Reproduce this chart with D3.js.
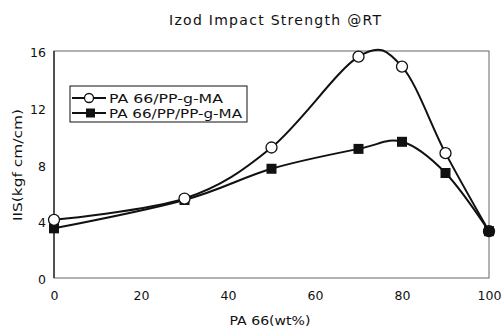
<!DOCTYPE html>
<html>
<head>
<meta charset="UTF-8" />
<title>Izod Impact Strength</title>
<script src="https://d3js.org/d3.v7.min.js"></script>
<style>
  body { margin: 0; background: #fff; }
  text { font-family: "DejaVu Sans", "Liberation Sans", sans-serif; fill: #111; }
  .line { fill: none; stroke: #111; stroke-width: 2; }
</style>
</head>
<body>
<script>
var width = 503, height = 328;

var pa66 = [0, 30, 50, 70, 80, 90, 100];
var ppgma = [4.1, 5.6, 9.2, 15.6, 14.9, 8.8, 3.3];
var ppppgma = [3.5, 5.5, 7.7, 9.1, 9.6, 7.4, 3.3];
var seriesNames = ["PA 66/PP-g-MA", "PA 66/PP/PP-g-MA"];
var xTicks = [0, 20, 40, 60, 80, 100];
var yTicks = [0, 4, 8, 12, 16];

var svg = d3.select("body").append("svg").attr("width", width).attr("height", height);

var mLeft = 54, mRight = 489, mTop = 51, mBottom = 278;
var x = d3.scaleLinear().domain([0, 100]).range([mLeft, mRight]);
var y = d3.scaleLinear().domain([0, 16]).range([mBottom, mTop]);

// frame
svg.append("rect").attr("x", mLeft).attr("y", mTop)
  .attr("width", mRight - mLeft).attr("height", mBottom - mTop)
  .attr("fill", "none").attr("stroke", "#666").attr("stroke-width", 1);
svg.append("line").attr("x1", mLeft).attr("x2", mLeft).attr("y1", mTop).attr("y2", mBottom)
  .attr("stroke", "#111").attr("stroke-width", 1.2);

// axes
var xAxis = svg.append("g").attr("transform", "translate(0," + mBottom + ")")
  .call(d3.axisBottom(x).tickValues(xTicks).tickSize(0).tickPadding(13));
var yAxis = svg.append("g").attr("transform", "translate(" + mLeft + ",0)")
  .call(d3.axisLeft(y).tickValues(yTicks).tickSize(0).tickPadding(8));
[xAxis, yAxis].forEach(function(a) {
  a.select(".domain").remove();
  a.selectAll("text").style("font-size", "12.5px").attr("fill", "#111")
    .style("font-family", "DejaVu Sans, Liberation Sans, sans-serif");
});
yAxis.selectAll("text").attr("dy", "0.45em");

// titles
svg.append("text").attr("x", 275).attr("y", 25).attr("text-anchor", "middle")
  .attr("textLength", 212).attr("lengthAdjust", "spacing")
  .style("font-size", "14px").text("Izod Impact Strength @RT");
svg.append("text").attr("x", 270).attr("y", 325).attr("text-anchor", "middle")
  .attr("textLength", 81).attr("lengthAdjust", "spacingAndGlyphs")
  .style("font-size", "12.5px").text("PA 66(wt%)");
svg.append("text").attr("transform", "translate(22,165) rotate(-90)").attr("text-anchor", "middle")
  .attr("textLength", 112).attr("lengthAdjust", "spacingAndGlyphs")
  .style("font-size", "12.5px").text("IIS(kgf cm/cm)");

var line = d3.line().x(function(d, i) { return x(pa66[i]); }).y(function(d) { return y(d); })
  .curve(d3.curveCardinal.tension(0));

svg.append("path").datum(ppppgma).attr("class", "line").attr("d", line);
svg.append("path").datum(ppgma).attr("class", "line").attr("d", line);

svg.selectAll(".sq").data(ppppgma).enter().append("rect").attr("class", "sq")
  .attr("x", function(d, i) { return x(pa66[i]) - 5; })
  .attr("y", function(d) { return y(d) - 5; })
  .attr("width", 10).attr("height", 10).attr("fill", "#111");

svg.selectAll(".ci").data(ppgma).enter().append("circle").attr("class", "ci")
  .attr("cx", function(d, i) { return x(pa66[i]); })
  .attr("cy", function(d) { return y(d); })
  .attr("r", 5.5).attr("fill", function(d, i) { return i === pa66.length - 1 ? "#111" : "#fff"; })
  .attr("stroke", "#111").attr("stroke-width", 1.3);

// legend
var lg = svg.append("g");
lg.append("rect").attr("x", 70).attr("y", 86).attr("width", 177).attr("height", 36)
  .attr("fill", "#fff").attr("stroke", "#111").attr("stroke-width", 1);
var legendWidths = [114, 133];
seriesNames.forEach(function(name, i) {
  var ly = 98 + i * 15;
  lg.append("line").attr("x1", 72).attr("x2", 106).attr("y1", ly).attr("y2", ly)
    .attr("stroke", "#111").attr("stroke-width", 2);
  if (i === 0) {
    lg.append("circle").attr("cx", 89).attr("cy", ly).attr("r", 4.5)
      .attr("fill", "#fff").attr("stroke", "#111").attr("stroke-width", 1.3);
  } else {
    lg.append("rect").attr("x", 86).attr("y", ly - 4.5).attr("width", 9).attr("height", 9).attr("fill", "#111");
  }
  lg.append("text").attr("x", 109).attr("y", ly + 5)
    .attr("textLength", legendWidths[i]).attr("lengthAdjust", "spacingAndGlyphs")
    .style("font-size", "12.5px").text(name);
});
</script>
</body>
</html>
